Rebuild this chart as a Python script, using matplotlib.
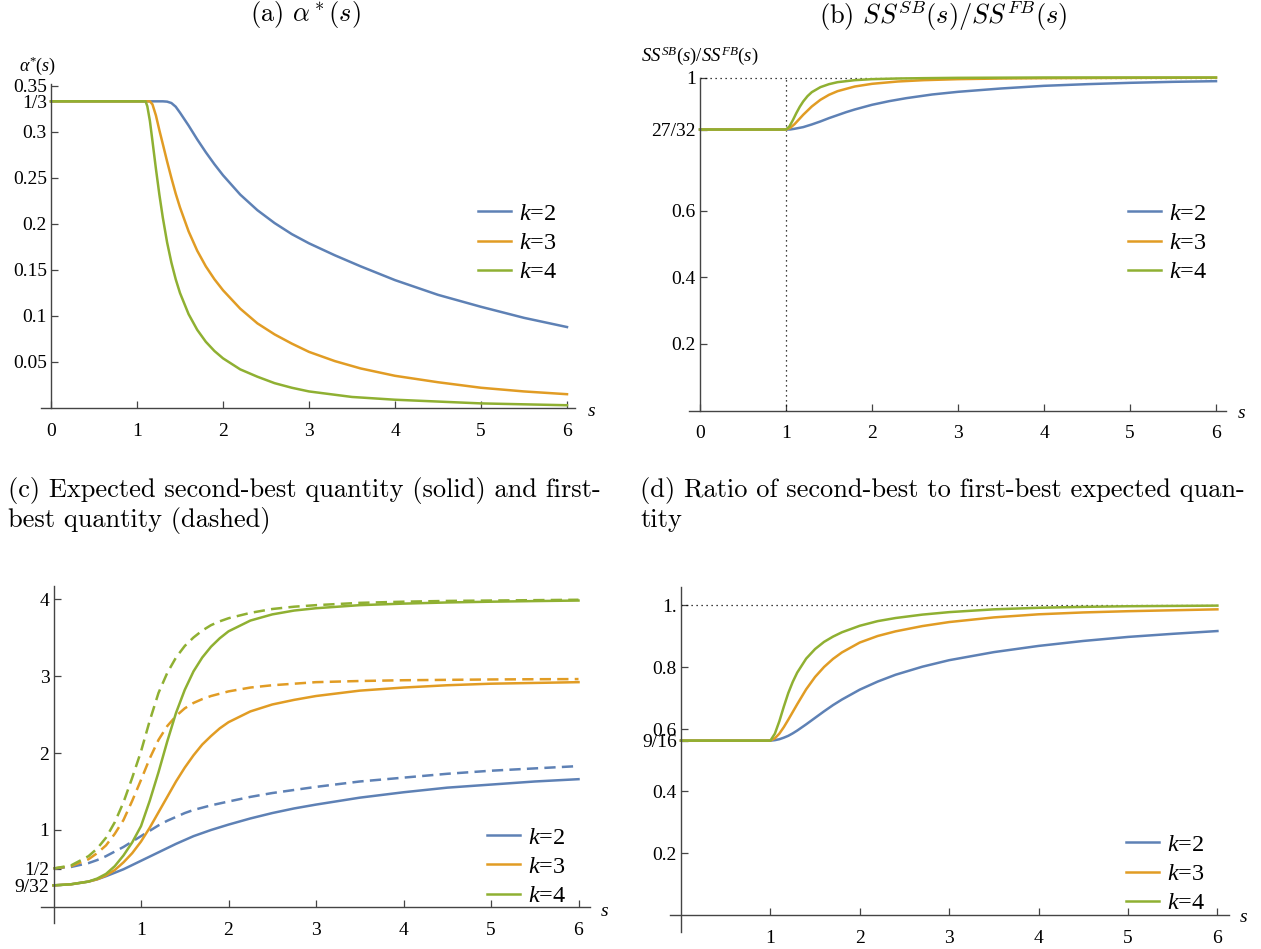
import matplotlib
matplotlib.use('Agg')
import matplotlib.pyplot as plt
from matplotlib.lines import Line2D

W, H = 1261, 949

plt.rcParams['font.family'] = ['Liberation Serif', 'DejaVu Serif']
plt.rcParams['mathtext.fontset'] = 'custom'
plt.rcParams['mathtext.rm'] = 'Liberation Serif'
plt.rcParams['mathtext.it'] = 'Liberation Serif:italic'

BLUE, ORANGE, GREEN = '#5E81B5', '#E19C24', '#8FB032'
COLORS = [BLUE, ORANGE, GREEN]
AXC = '#444444'
LW = 1.8
K_LABELS = ['$k$=2', '$k$=3', '$k$=4']
TITLE_FS = 19

# ---- (a) alpha*(s) ----
a_s_k2 = [0, 1.3, 1.35, 1.4, 1.45, 1.5, 1.6, 1.7, 1.8, 1.9, 2.0, 2.2, 2.4, 2.6, 2.8, 3.0,
          3.3, 3.6, 4.0, 4.5, 5.0, 5.5, 6.0]
a_k2 = [1/3, 1/3, 0.333, 0.3315, 0.3275, 0.321, 0.307, 0.292, 0.278, 0.265, 0.253, 0.232, 0.215,
        0.201, 0.189, 0.179, 0.166, 0.154, 0.139, 0.123, 0.110, 0.098, 0.088]
a_s_k3 = [0, 1.15, 1.18, 1.22, 1.26, 1.3, 1.35, 1.4, 1.45, 1.5, 1.6, 1.7, 1.8, 1.9, 2.0, 2.2,
          2.4, 2.6, 2.8, 3.0, 3.3, 3.6, 4.0, 4.5, 5.0, 5.5, 6.0]
a_k3 = [1/3, 1/3, 0.33, 0.318, 0.302, 0.287, 0.268, 0.250, 0.233, 0.218, 0.192, 0.171, 0.154,
        0.140, 0.128, 0.108, 0.092, 0.080, 0.070, 0.061, 0.051, 0.043, 0.035, 0.028, 0.022,
        0.018, 0.015]
a_s_k4 = [0, 1.1, 1.12, 1.15, 1.18, 1.22, 1.26, 1.3, 1.35, 1.4, 1.45, 1.5, 1.6, 1.7, 1.8, 1.9,
          2.0, 2.2, 2.4, 2.6, 2.8, 3.0, 3.5, 4, 4.5, 5, 6]
a_k4 = [1/3, 1/3, 0.328, 0.312, 0.29, 0.26, 0.232, 0.207, 0.18, 0.158, 0.14, 0.125, 0.102,
        0.085, 0.072, 0.062, 0.054, 0.042, 0.034, 0.027, 0.022, 0.018, 0.012, 0.009, 0.007,
        0.005, 0.003]
a_yticks = [0.05, 0.1, 0.15, 0.2, 0.25, 0.3, 1/3, 0.35]
a_ylabels = ['0.05', '0.1', '0.15', '0.2', '0.25', '0.3', '1/3', '0.35']

# ---- (b) SS^SB / SS^FB ----
b_s_k2 = [0, 1.0, 1.05, 1.1, 1.2, 1.3, 1.4, 1.5, 1.6, 1.7, 1.8, 2.0, 2.2, 2.4, 2.7, 3.0, 3.5,
          4, 4.5, 5, 5.5, 6]
b_k2 = [27/32, 27/32, 0.844, 0.846, 0.851, 0.859, 0.868, 0.878, 0.887, 0.896, 0.904, 0.918,
        0.929, 0.938, 0.949, 0.957, 0.967, 0.975, 0.980, 0.984, 0.987, 0.989]
b_s_k3 = [0, 1.0, 1.05, 1.1, 1.15, 1.2, 1.3, 1.4, 1.5, 1.6, 1.8, 2.0, 2.3, 2.6, 3, 3.5, 4, 5, 6]
b_k3 = [27/32, 27/32, 0.849, 0.86, 0.874, 0.888, 0.913, 0.933, 0.948, 0.959, 0.973, 0.981,
        0.988, 0.992, 0.995, 0.997, 0.998, 0.999, 0.9995]
b_s_k4 = [0, 1.0, 1.04, 1.08, 1.12, 1.16, 1.2, 1.25, 1.3, 1.4, 1.5, 1.6, 1.8, 2.0, 2.3, 2.6,
          3, 4, 6]
b_k4 = [27/32, 27/32, 0.853, 0.872, 0.893, 0.912, 0.928, 0.944, 0.956, 0.971, 0.980, 0.986,
        0.992, 0.995, 0.997, 0.998, 0.999, 1.0, 1.0]
b_yticks = [0.2, 0.4, 0.6, 27/32, 1]
b_ylabels = ['0.2', '0.4', '0.6', '27/32', '1']

# ---- (c) expected quantities: sb = second-best (solid), fb = first-best (dashed) ----
c_s = [0, 0.2, 0.4, 0.5, 0.6, 0.7, 0.8, 0.9, 1.0, 1.1, 1.2, 1.3, 1.4, 1.5, 1.6, 1.7, 1.8, 1.9,
       2.0, 2.25, 2.5, 2.75, 3, 3.5, 4, 4.5, 5, 5.5, 6]
c_sb_k2 = [0.281, 0.295, 0.33, 0.36, 0.40, 0.445, 0.49, 0.545, 0.60, 0.655, 0.71, 0.765, 0.82,
           0.87, 0.92, 0.96, 1.00, 1.035, 1.07, 1.15, 1.22, 1.28, 1.33, 1.42, 1.49, 1.55, 1.59,
           1.63, 1.66]
c_fb_k2 = [0.5, 0.52, 0.57, 0.61, 0.66, 0.72, 0.78, 0.85, 0.92, 0.99, 1.06, 1.12, 1.17, 1.22,
           1.26, 1.29, 1.32, 1.345, 1.37, 1.43, 1.48, 1.52, 1.56, 1.63, 1.68, 1.73, 1.77, 1.80,
           1.83]
c_sb_k3 = [0.281, 0.295, 0.33, 0.36, 0.41, 0.48, 0.58, 0.70, 0.85, 1.03, 1.23, 1.43, 1.63,
           1.81, 1.97, 2.11, 2.22, 2.32, 2.40, 2.54, 2.63, 2.69, 2.74, 2.81, 2.85, 2.88, 2.90,
           2.91, 2.92]
c_fb_k3 = [0.5, 0.53, 0.62, 0.70, 0.80, 0.95, 1.13, 1.38, 1.65, 1.93, 2.17, 2.35, 2.48, 2.58,
           2.65, 2.70, 2.74, 2.77, 2.80, 2.85, 2.88, 2.90, 2.92, 2.935, 2.945, 2.95, 2.955,
           2.958, 2.96]
c_sb_k4 = [0.281, 0.295, 0.33, 0.37, 0.43, 0.53, 0.67, 0.84, 1.05, 1.38, 1.75, 2.15, 2.52,
           2.82, 3.06, 3.24, 3.38, 3.49, 3.58, 3.72, 3.80, 3.85, 3.88, 3.92, 3.94, 3.955, 3.965,
           3.973, 3.98]
c_fb_k4 = [0.5, 0.54, 0.66, 0.76, 0.90, 1.10, 1.36, 1.68, 2.02, 2.42, 2.78, 3.04, 3.24, 3.39,
           3.50, 3.59, 3.66, 3.71, 3.75, 3.82, 3.87, 3.90, 3.92, 3.95, 3.965, 3.975, 3.98,
           3.985, 3.99]
c_yticks = [9/32, 1/2, 1, 2, 3, 4]
c_ylabels = ['9/32', '1/2', '1', '2', '3', '4']

# ---- (d) ratio of quantities ----
d_s = [0, 1.0, 1.05, 1.1, 1.15, 1.2, 1.25, 1.3, 1.4, 1.5, 1.6, 1.7, 1.8, 2.0, 2.2, 2.4, 2.7,
       3.0, 3.5, 4, 4.5, 5, 5.5, 6]
d_k2 = [0.5625, 0.5625, 0.564, 0.567, 0.572, 0.578, 0.586, 0.595, 0.615, 0.636, 0.657, 0.677,
        0.695, 0.727, 0.753, 0.775, 0.801, 0.822, 0.848, 0.868, 0.884, 0.897, 0.907, 0.916]
d_k3 = [0.5625, 0.5625, 0.57, 0.585, 0.606, 0.63, 0.655, 0.68, 0.728, 0.768, 0.800, 0.826,
        0.847, 0.879, 0.900, 0.915, 0.932, 0.945, 0.960, 0.970, 0.976, 0.980, 0.983, 0.986]
d_k4 = [0.5625, 0.5625, 0.585, 0.625, 0.672, 0.716, 0.752, 0.782, 0.827, 0.858, 0.881, 0.898,
        0.912, 0.933, 0.948, 0.958, 0.969, 0.977, 0.986, 0.991, 0.994, 0.996, 0.997, 0.998]
d_yticks = [0.2, 0.4, 9/16, 0.6, 0.8, 1]
d_ylabels = ['0.2', '0.4', '9/16', '0.6', '0.8', '1.']

x_ticks = [0, 1, 2, 3, 4, 5, 6]


def make_axes(fig, x0, ux, y0, uy, box, xspan, yspan):
    # x0/y0: pixel position of data zero, ux/uy: pixels per data unit
    L, T, R, B = box
    ax = fig.add_axes([L / W, 1 - B / H, (R - L) / W, (B - T) / H])
    ax.set_xlim((L - x0) / ux, (R - x0) / ux)
    ax.set_ylim((y0 - B) / uy, (y0 - T) / uy)
    ax.patch.set_visible(False)
    for sp in ('top', 'right'):
        ax.spines[sp].set_visible(False)
    for sp in ('left', 'bottom'):
        ax.spines[sp].set_position(('data', 0))
        ax.spines[sp].set_color(AXC)
        ax.spines[sp].set_linewidth(1.0)
    ax.spines['bottom'].set_bounds(*xspan)
    ax.spines['left'].set_bounds(*yspan)
    ax.tick_params(direction='in', length=5, width=0.9, color=AXC, labelsize=14)
    ax.tick_params(axis='x', pad=10.5)
    ax.tick_params(axis='y', pad=3)
    return ax


def add_legend(fig, ax, x, y):
    handles = [Line2D([], [], color=c, lw=LW) for c in COLORS]
    ax.legend(handles, K_LABELS, loc='center left', bbox_to_anchor=(x / W, 1 - y / H),
              bbox_transform=fig.transFigure, frameon=False,
              prop={'family': 'Liberation Serif', 'size': 17.5},
              handlelength=1.35, handletextpad=0.33, labelspacing=0.3,
              borderpad=0, borderaxespad=0)


def label(fig, x, y, text, **kw):
    fig.text(x / W, 1 - y / H, text, **kw)


def main():
    fig = plt.figure(figsize=(W / 100, H / 100), dpi=100)

    # (a)
    ax = make_axes(fig, 51, 86, 408, 920, (30, 70, 600, 430), (-0.116, 6.09), (0, 0.352))
    ax.plot(a_s_k2, a_k2, color=BLUE, lw=LW)
    ax.plot(a_s_k3, a_k3, color=ORANGE, lw=LW)
    ax.plot(a_s_k4, a_k4, color=GREEN, lw=LW)
    ax.set_xticks(x_ticks)
    ax.set_yticks(a_yticks, a_ylabels)
    add_legend(fig, ax, 478, 243)
    label(fig, 305, 15, r'(a) $\alpha^*(s)$', fontfamily='cmr10', math_fontfamily='cm',
          fontsize=TITLE_FS, ha='center', va='center')
    label(fig, 38, 66, r'$\alpha^{*}(s)$', fontsize=13, ha='center', va='center')
    label(fig, 592, 411, 's', style='italic', fontsize=14, ha='center', va='center')

    # (b)
    ax = make_axes(fig, 700, 86, 410.5, 333, (680, 70, 1240, 430), (-0.128, 6.12), (0, 1.0))
    ax.hlines(1, 0, 6, colors='k', lw=0.9, linestyles=(0, (1, 3)))
    ax.vlines(1, 0, 1, colors='k', lw=0.9, linestyles=(0, (1, 3)))
    ax.plot(b_s_k2, b_k2, color=BLUE, lw=LW)
    ax.plot(b_s_k3, b_k3, color=ORANGE, lw=LW)
    ax.plot(b_s_k4, b_k4, color=GREEN, lw=LW)
    ax.set_xticks(x_ticks)
    ax.set_yticks(b_yticks, b_ylabels)
    add_legend(fig, ax, 1128, 243)
    label(fig, 943, 15, r'(b) $SS^{SB}(s)/SS^{FB}(s)$', fontfamily='cmr10', math_fontfamily='cm',
          fontsize=TITLE_FS, ha='center', va='center')
    label(fig, 700, 56, r'$SS^{SB}(s)/SS^{FB}(s)$', fontsize=13.5, ha='center', va='center')
    label(fig, 1242, 414, 's', style='italic', fontsize=14, ha='center', va='center')

    # (c)
    ax = make_axes(fig, 53.5, 87.5, 907, 77, (30, 580, 600, 930), (-0.143, 6.13), (-0.21, 4.17))
    ax.plot(c_s, c_fb_k2, color=BLUE, lw=LW, ls=(0, (4.5, 2.5)))
    ax.plot(c_s, c_fb_k3, color=ORANGE, lw=LW, ls=(0, (4.5, 2.5)))
    ax.plot(c_s, c_fb_k4, color=GREEN, lw=LW, ls=(0, (4.5, 2.5)))
    ax.plot(c_s, c_sb_k2, color=BLUE, lw=LW)
    ax.plot(c_s, c_sb_k3, color=ORANGE, lw=LW)
    ax.plot(c_s, c_sb_k4, color=GREEN, lw=LW)
    ax.set_xticks(x_ticks[1:])
    ax.set_yticks(c_yticks, c_ylabels)
    add_legend(fig, ax, 487, 867)
    label(fig, 8, 490, '(c) Expected second-best quantity (solid) and first-',
          fontfamily='cmr10', fontsize=TITLE_FS, ha='left', va='center')
    label(fig, 8, 520, 'best quantity (dashed)',
          fontfamily='cmr10', fontsize=TITLE_FS, ha='left', va='center')
    label(fig, 605, 912, 's', style='italic', fontsize=14, ha='center', va='center')

    # (d)
    ax = make_axes(fig, 681, 89.4, 915, 310, (660, 580, 1240, 940), (-0.123, 6.13), (-0.055, 1.058))
    ax.hlines(1, 0, 6, colors='k', lw=0.9, linestyles=(0, (1, 3)))
    ax.plot(d_s, d_k2, color=BLUE, lw=LW)
    ax.plot(d_s, d_k3, color=ORANGE, lw=LW)
    ax.plot(d_s, d_k4, color=GREEN, lw=LW)
    ax.set_xticks(x_ticks[1:])
    ax.set_yticks(d_yticks, d_ylabels)
    add_legend(fig, ax, 1126, 874)
    label(fig, 640, 490, '(d) Ratio of second-best to first-best expected quan-',
          fontfamily='cmr10', fontsize=TITLE_FS, ha='left', va='center')
    label(fig, 640, 520, 'tity', fontfamily='cmr10', fontsize=TITLE_FS, ha='left', va='center')
    label(fig, 1244, 918, 's', style='italic', fontsize=14, ha='center', va='center')

    fig.savefig('out.png', dpi=100)


if __name__ == '__main__':
    main()
